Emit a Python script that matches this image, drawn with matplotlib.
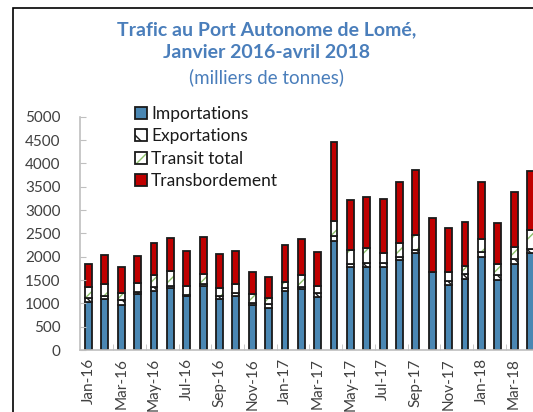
import matplotlib
matplotlib.use('Agg')
import matplotlib.pyplot as plt
from matplotlib.patches import Patch, Rectangle
from matplotlib.legend_handler import HandlerTuple
import numpy as np

plt.rcParams['font.family'] = ['Lato', 'DejaVu Sans']

months = ['Jan-16', 'Feb-16', 'Mar-16', 'Apr-16', 'May-16', 'Jun-16', 'Jul-16',
          'Aug-16', 'Sep-16', 'Oct-16', 'Nov-16', 'Dec-16', 'Jan-17', 'Feb-17',
          'Mar-17', 'Apr-17', 'May-17', 'Jun-17', 'Jul-17', 'Aug-17', 'Sep-17',
          'Oct-17', 'Nov-17', 'Dec-17', 'Jan-18', 'Feb-18', 'Mar-18', 'Apr-18']

importations = [1035, 1095, 965, 1200, 1270, 1320, 1155, 1370, 1095, 1155, 965, 895,
                1265, 1300, 1145, 2345, 1770, 1770, 1770, 1930, 2070, 1665, 1395,
                1520, 2000, 1500, 1845, 2070]
exportations = [90, 70, 105, 40, 70, 60, 25, 45, 55, 70, 40, 85,
                70, 55, 70, 100, 70, 100, 85, 55, 70, 0, 85,
                105, 105, 105, 100, 105]
transit = [215, 240, 145, 200, 260, 315, 190, 220, 185, 180, 195, 130,
           130, 250, 155, 330, 300, 310, 215, 315, 335, 0, 185,
           180, 270, 230, 270, 390]
transbordement = [505, 640, 570, 585, 685, 700, 745, 795, 715, 715, 480, 465,
                  785, 775, 735, 1690, 1085, 1105, 1160, 1290, 1380, 1155, 955,
                  945, 1215, 880, 1180, 1265]

x = np.arange(len(months))
imp = np.array(importations)
exp_ = np.array(exportations)
tra = np.array(transit)
tb = np.array(transbordement)

blue = '#4A87B3'
red = '#C00000'
green = '#8CC06A'
grey_txt = '#404040'
w = 0.42
lw = 1.3

fig = plt.figure(figsize=(5.33, 4.12), dpi=100)
ax = fig.add_axes([80 / 533, 1 - 350 / 412, 459 / 533, 233.3 / 412])

ax.bar(x, imp, w, color=blue, edgecolor='#1a1a1a', linewidth=lw)
ax.bar(x, exp_, w, bottom=imp, color='white', edgecolor='#1a1a1a',
       linewidth=lw, hatch='\\\\\\')
b2 = imp + exp_
ax.bar(x, tra, w, bottom=b2, color='white', edgecolor=green, linewidth=0,
       hatch='//')
ax.bar(x, tra, w, bottom=b2, fill=False, edgecolor='#1a1a1a', linewidth=lw)
b3 = b2 + tra
ax.bar(x, tb, w, bottom=b3, color=red, edgecolor='#1a1a1a', linewidth=lw)

ax.set_ylim(0, 5000)
ax.set_xlim(-0.52, len(months) - 0.48)
ax.set_yticks(range(0, 5001, 500))
ax.set_xticks(x[::2])
ax.set_xticklabels(months[::2], rotation=90)
ax.set_xticks(np.arange(1.5, len(months), 2), minor=True)

for s in ['top', 'right']:
    ax.spines[s].set_visible(False)
for s in ['left', 'bottom']:
    ax.spines[s].set_color('#BFBFBF')
    ax.spines[s].set_linewidth(1.2)

ax.tick_params(axis='y', direction='in', length=4, color='#BFBFBF',
               labelsize=11, labelcolor=grey_txt, pad=14)
ax.tick_params(axis='x', which='major', length=0, labelsize=11,
               labelcolor=grey_txt, pad=6)
ax.tick_params(axis='x', which='minor', direction='in', length=4,
               color='#BFBFBF')

# legend
h_imp = Patch(facecolor=blue, edgecolor='#1a1a1a', linewidth=lw)
h_exp = Patch(facecolor='white', edgecolor='#1a1a1a', linewidth=lw, hatch='\\\\')
h_tra = (Patch(facecolor='white', edgecolor=green, linewidth=0, hatch='//'),
         Patch(fill=False, edgecolor='#1a1a1a', linewidth=lw))
h_tb = Patch(facecolor=red, edgecolor='#1a1a1a', linewidth=lw)
fig.legend([h_imp, h_exp, h_tra, h_tb],
           ['Importations', 'Exportations', 'Transit total', 'Transbordement'],
           handler_map={tuple: HandlerTuple(ndivide=1, pad=0)},
           loc='upper left', bbox_to_anchor=(126 / 533, 1 - 97 / 412),
           frameon=False, fontsize=12.5, handlelength=0.7, handleheight=0.7,
           handletextpad=0.25, labelspacing=0.38, borderpad=0,
           labelcolor='#1a1a1a')

title_c = '#4A7EBB'
fig.text(0.5, 1 - 30 / 412, 'Trafic au Port Autonome de Lomé,', ha='center',
         va='center', fontsize=14, fontweight='bold', color=title_c)
fig.text(0.5, 1 - 53 / 412, 'Janvier 2016-avril 2018', ha='center',
         va='center', fontsize=14, fontweight='bold', color=title_c)
fig.text(0.5, 1 - 77 / 412, '(milliers de tonnes)', ha='center',
         va='center', fontsize=13.5, color=title_c)

# frame round the chart, cut at the right and bottom
fig.patches.append(Rectangle((13 / 533, -0.1), 1.2, 1.1 - 8 / 412,
                             transform=fig.transFigure, fill=False,
                             edgecolor='black', linewidth=1.2))

fig.savefig('out.png', dpi=100)
